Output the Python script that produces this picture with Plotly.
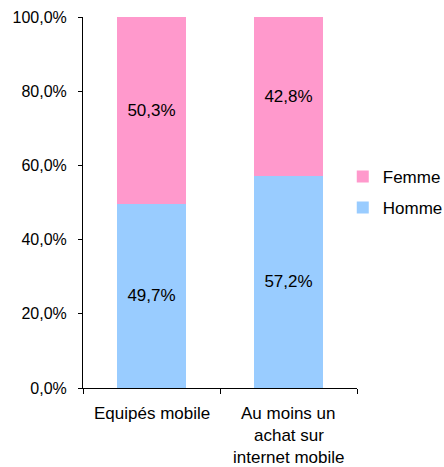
import plotly.graph_objects as go

categories = ["Equipés mobile", "Au moins un achat sur internet mobile"]
category_lines = [["Equipés mobile"], ["Au moins un", "achat sur", "internet mobile"]]
homme = [0.497, 0.572]
femme = [0.503, 0.428]
ytick_vals = [0, 0.2, 0.4, 0.6, 0.8, 1.0]

FONT = "Liberation Sans, Arial, sans-serif"

fig = go.Figure()
fig.add_trace(go.Bar(
    x=categories, y=homme, name="Homme", legendgroup="h", legendrank=2,
    marker=dict(color="#99CCFF", line=dict(width=0)),
    texttemplate="%{y:.1%}", textposition="inside", insidetextanchor="middle",
    textfont=dict(color="black", size=17, family=FONT),
))
fig.add_trace(go.Bar(
    x=categories, y=femme, name="Femme", legendgroup="f", legendrank=1,
    marker=dict(color="#FF99CC", line=dict(width=0)),
    texttemplate="%{y:.1%}", textposition="inside", insidetextanchor="middle",
    textfont=dict(color="black", size=17, family=FONT),
))

annotations = []
for cat, lines in zip(categories, category_lines):
    for j, line in enumerate(lines):
        annotations.append(dict(
            x=cat, xref="x", y=0, yref="paper", yanchor="middle",
            yshift=-25 - 22 * j, text=line, showarrow=False,
            font=dict(size=17, family=FONT, color="black"),
        ))

fig.update_layout(
    barmode="stack",
    bargap=0.49,
    width=444, height=467,
    margin=dict(l=83, r=87, t=17, b=79, autoexpand=False),
    paper_bgcolor="white", plot_bgcolor="white",
    separators=", ",
    font=dict(family=FONT, size=16, color="black"),
    uniformtext=dict(mode=False),
    annotations=annotations,
    legend=dict(
        xref="container", yref="container",
        x=0.772, y=0.588, xanchor="left", yanchor="middle",
        traceorder="grouped", tracegroupgap=6,
        font=dict(size=17, family=FONT, color="black"),
        itemwidth=30,
    ),
    xaxis=dict(
        showline=True, linecolor="black", linewidth=1,
        ticks="outside", ticklen=5, tickcolor="black", tickson="boundaries",
        showgrid=False, showticklabels=False, automargin=False,
    ),
    yaxis=dict(
        range=[0, 1], tickvals=ytick_vals, tickformat=".1%",
        showline=True, linecolor="black", linewidth=1,
        ticks="outside", ticklen=4, tickcolor="black",
        showgrid=False, zeroline=False, tickfont=dict(size=16),
        automargin=False, ticklabelstandoff=8,
    ),
)

fig.write_html(
    "out.html",
    config={"displayModeBar": False},
    post_script="document.body.style.margin='0';document.body.style.overflow='hidden';",
)
